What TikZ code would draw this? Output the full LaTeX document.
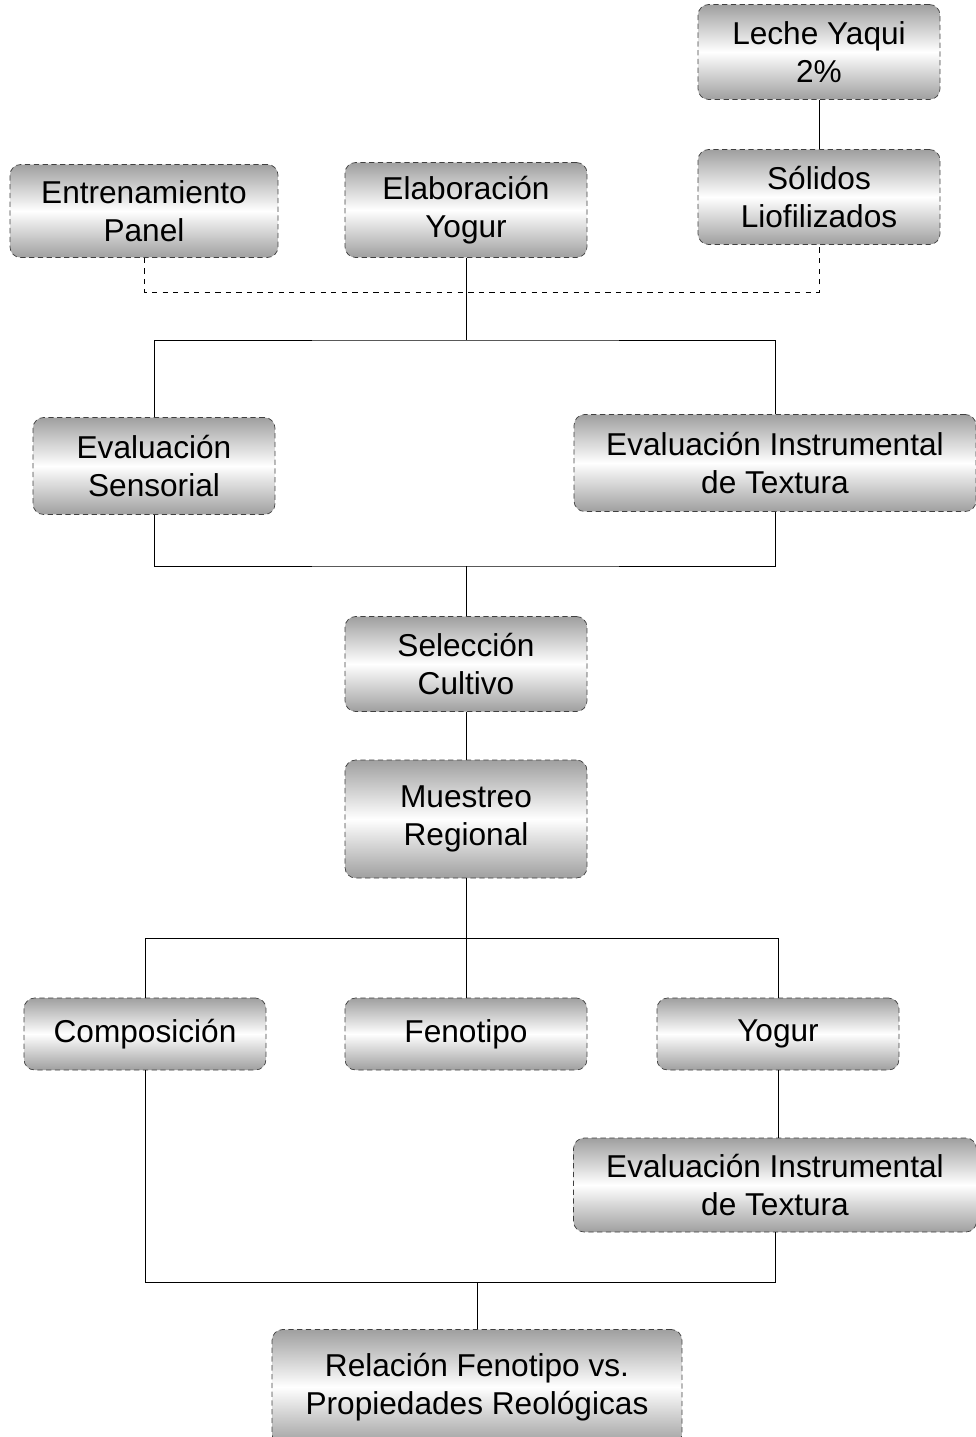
\documentclass[tikz,border=0pt]{standalone}
\usepackage{fontspec}
\setmainfont{Liberation Sans}
\usepackage{xcolor}
\colorlet{colEdge}{black!75}
\colorlet{colShade}{gray!75}
\usepackage{tikz}
\usetikzlibrary{positioning, calc}
\tikzset{
	link/.style={thin, black},
	optlink/.style={thin, black, dash pattern=on 3pt off 3pt},
}

\begin{document}
\begin{tikzpicture}[
		x=0.02cm, y=-0.02cm,
		stagebox/.style={draw=colEdge, densely dashed, thin, rounded corners=6pt,
			top color=colShade, bottom color=colShade, middle color=white,
			minimum width=4.84cm, minimum height=1.9cm, align=center,
			inner sep=2pt, font=\fontsize{18}{21.5}\selectfont},
	]
		\useasboundingbox (0,0) rectangle (976,1437);

		% raw material and preparation
		\node[stagebox] (leche) at (819,52)  {Leche Yaqui\\2\%};
		\node[stagebox] (solid) at (819,197) {Sólidos\\Liofilizados};
		\node[stagebox, minimum width=5.36cm, minimum height=1.86cm] (panel) at (144,211) {Entrenamiento\\Panel};
		\node[stagebox] (elab)  at (466,210) {Elaboración\\Yogur};

		% first evaluation round
		\node[stagebox, minimum height=1.94cm] (sens) at (154,466) {Evaluación\\Sensorial};
		\node[stagebox, minimum width=8.04cm, minimum height=1.94cm] (instrA) at (775,463)
			{Evaluación Instrumental\\de Textura};

		\node[stagebox] (selec) at (466,664) {Selección\\Cultivo};
		\node[stagebox, minimum height=2.36cm] (muest) at (466,819) {Muestreo\\Regional};

		% regional sampling branches
		\node[stagebox, minimum height=1.44cm] (comp)  at (145,1034) {Composición};
		\node[stagebox, minimum height=1.44cm] (feno)  at (466,1034) {Fenotipo};
		\node[stagebox, minimum height=1.44cm] (yogur) at (778,1034) {Yogur};
		\node[stagebox, minimum width=8.06cm, minimum height=1.88cm] (instrB) at (775,1185)
			{Evaluación Instrumental\\de Textura};

		\node[stagebox, minimum width=8.2cm, minimum height=2.3cm] (rel) at (477,1387)
			{Relación Fenotipo vs.\\Propiedades Reológicas};

		% junctions
		\coordinate (jA) at (466,292);
		\coordinate (jB) at (466,340);
		\coordinate (jC) at (466,566);
		\coordinate (jD) at (466,938);
		\coordinate (jE) at (477,1282);

		\draw[link] (leche) -- (solid);
		\draw[optlink] (panel.south) |- (jA) -| (solid.south);
		\draw[link] (elab) -- (jB);
		\draw[link] (sens.north) |- (jB) -| (instrA.north);
		\draw[link] (sens.south) |- (jC) -| (instrA.south);
		\draw[link] (jC) -- (selec);
		\draw[link] (selec) -- (muest);
		\draw[link] (muest) -- (feno);
		\draw[link] (comp.north) |- (jD) -| (yogur.north);
		\draw[link] (yogur.south) -- (yogur.south |- instrB.north);
		\draw[link] (comp.south) |- (jE) -| (instrB.south);
		\draw[link] (jE) -- (rel);
	\end{tikzpicture}
\end{document}
